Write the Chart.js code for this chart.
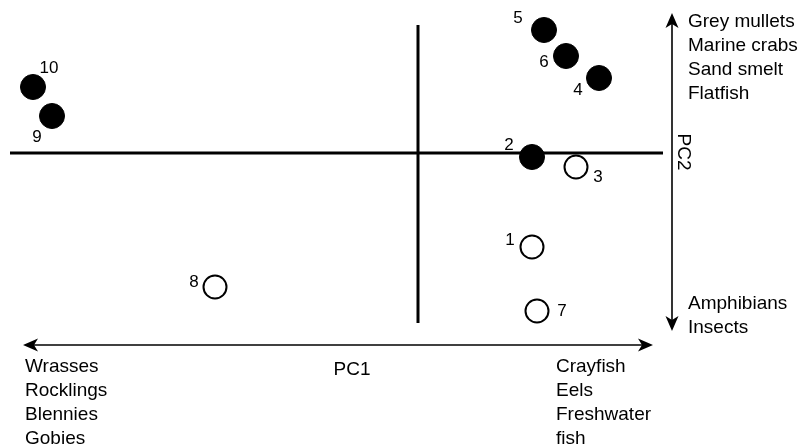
<!DOCTYPE html>
<html>
<head>
<meta charset="utf-8">
<script src="https://cdn.jsdelivr.net/npm/chart.js@4/dist/chart.umd.min.js"></script>
<style>
  html, body { margin: 0; padding: 0; background: #fff; }
  #wrap { width: 806px; height: 448px; position: relative; }
</style>
</head>
<body>
<div id="wrap"><canvas id="c"></canvas></div>
<script>
// Site numbers and their scores on the first two principal components
const sites = ['1', '2', '3', '4', '5', '6', '7', '8', '9', '10'];
const pc1 = [1.14, 1.14, 1.58, 1.81, 1.26, 1.48, 1.19, -2.03, -3.66, -3.85];
const pc2 = [-0.94, -0.04, -0.14, 0.75, 1.23, 0.97, -1.58, -1.34, 0.37, 0.66];
// filled = true for solid markers, false for open ones
const filled = [false, true, false, true, true, true, false, false, true, true];

// Group labels at the ends of each axis
const pc1Negative = ['Wrasses', 'Rocklings', 'Blennies', 'Gobies'];
const pc1Positive = ['Crayfish', 'Eels', 'Freshwater', 'fish'];
const pc2Positive = ['Grey mullets', 'Marine crabs', 'Sand smelt', 'Flatfish'];
const pc2Negative = ['Amphibians', 'Insects'];

// Offsets (px) of each site number from its marker
const labelOffsets = [[-22, -7], [-23, -12], [22, 10], [-21, 12], [-26, -12],
                      [-22, 6], [25, 0], [-21, -5], [-15, 21], [16, -19]];

const FONT = '"Liberation Sans", Arial, Helvetica, sans-serif';

const pts = sites.map((s, i) => ({ x: pc1[i], y: pc2[i], label: s, idx: i }));

function arrowHead(ctx, x, y, angle) {
  ctx.save();
  ctx.translate(x, y);
  ctx.rotate(angle);
  ctx.beginPath();
  ctx.moveTo(0, 0);
  ctx.lineTo(-15, -6.5);
  ctx.lineTo(-11, 0);
  ctx.lineTo(-15, 6.5);
  ctx.closePath();
  ctx.fill();
  ctx.restore();
}

const annotate = {
  id: 'annotate',
  afterDatasetsDraw(chart) {
    const ctx = chart.ctx;
    const xs = chart.scales.x, ys = chart.scales.y;
    ctx.save();
    ctx.fillStyle = '#000';
    ctx.strokeStyle = '#000';

    // site numbers
    ctx.font = '17px ' + FONT;
    ctx.textAlign = 'center';
    ctx.textBaseline = 'middle';
    pts.forEach((p, i) => {
      const px = xs.getPixelForValue(p.x) + labelOffsets[i][0];
      const py = ys.getPixelForValue(p.y) + labelOffsets[i][1];
      ctx.fillText(p.label, px, py);
    });

    // PC1 double arrow
    ctx.lineWidth = 1.6;
    ctx.beginPath();
    ctx.moveTo(30, 345);
    ctx.lineTo(646, 345);
    ctx.stroke();
    arrowHead(ctx, 23, 345, Math.PI);
    arrowHead(ctx, 653, 345, 0);

    // PC2 double arrow
    ctx.beginPath();
    ctx.moveTo(672, 20);
    ctx.lineTo(672, 324);
    ctx.stroke();
    arrowHead(ctx, 672, 13, -Math.PI / 2);
    arrowHead(ctx, 672, 331, Math.PI / 2);

    // axis titles and group lists
    ctx.font = '19px ' + FONT;
    ctx.textAlign = 'center';
    ctx.fillText('PC1', 352, 370);

    ctx.save();
    ctx.translate(683, 152);
    ctx.rotate(Math.PI / 2);
    ctx.fillText('PC2', 0, 0);
    ctx.restore();

    ctx.textAlign = 'left';
    pc1Negative.forEach((t, i) => ctx.fillText(t, 25, 367 + i * 24));
    pc1Positive.forEach((t, i) => ctx.fillText(t, 556, 367 + i * 24));
    pc2Positive.forEach((t, i) => ctx.fillText(t, 688, 22 + i * 24));
    pc2Negative.forEach((t, i) => ctx.fillText(t, 688, 304 + i * 24));
    ctx.restore();
  }
};

new Chart(document.getElementById('c'), {
  type: 'scatter',
  data: {
    datasets: [
      {
        label: 'PC1 axis',
        type: 'line',
        data: [{ x: -4.08, y: 0 }, { x: 2.45, y: 0 }],
        borderColor: '#000',
        borderWidth: 3,
        pointRadius: 0,
        order: 3
      },
      {
        label: 'PC2 axis',
        type: 'line',
        data: [{ x: 0, y: 1.28 }, { x: 0, y: -1.70 }],
        borderColor: '#000',
        borderWidth: 3,
        pointRadius: 0,
        order: 3
      },
      {
        label: 'filled',
        data: pts.filter(p => filled[p.idx]),
        backgroundColor: '#000',
        borderColor: '#000',
        borderWidth: 1,
        pointRadius: 12.5,
        order: 1
      },
      {
        label: 'open',
        data: pts.filter(p => !filled[p.idx]),
        backgroundColor: '#fff',
        borderColor: '#000',
        borderWidth: 2,
        pointRadius: 11.5,
        order: 1
      }
    ]
  },
  options: {
    responsive: true,
    maintainAspectRatio: false,
    animation: false,
    layout: { padding: 0, autoPadding: false },
    plugins: { legend: { display: false }, tooltip: { enabled: false } },
    scales: {
      x: { type: 'linear', display: false, min: -4.18, max: 3.88 },
      y: { type: 'linear', display: false, min: -2.95, max: 1.53 }
    }
  },
  plugins: [annotate]
});
</script>
</body>
</html>
